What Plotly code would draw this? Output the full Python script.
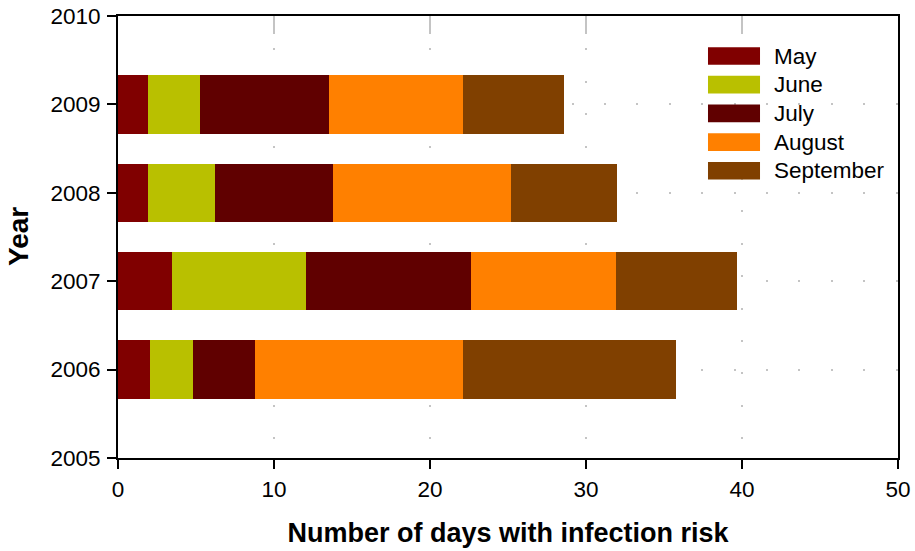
import plotly.graph_objects as go

years = [2006, 2007, 2008, 2009]
months = ["May", "June", "July", "August", "September"]
colors = ["#800000", "#b9c000", "#600000", "#ff8000", "#804000"]

may = [2.05, 3.45, 1.9, 1.9]
june = [2.75, 8.6, 4.3, 3.35]
july = [4.0, 10.6, 7.6, 8.3]
august = [13.3, 9.25, 11.4, 8.55]
september = [13.7, 7.8, 6.8, 6.5]
series = [may, june, july, august, september]

x_ticks = [0, 10, 20, 30, 40, 50]
y_ticks = [2005, 2006, 2007, 2008, 2009, 2010]

FONT = "Liberation Sans, Arial, sans-serif"

fig = go.Figure()
for name, vals, col in zip(months, series, colors):
    fig.add_trace(go.Bar(
        y=years, x=vals, name=name, orientation="h",
        marker=dict(color=col, line=dict(width=0)),
        showlegend=False,
    ))

# dummy trace to activate the top (mirror) axis carrying the grey inward ticks
fig.add_trace(go.Scatter(x=[None], y=[None], xaxis="x2", showlegend=False, hoverinfo="skip"))

fig.update_layout(
    width=915, height=551,
    margin=dict(l=118, r=17, t=16, b=93, autoexpand=False),
    paper_bgcolor="white", plot_bgcolor="white",
    barmode="stack", bargap=0.34,
    font=dict(family=FONT, size=22.5, color="black"),
    xaxis=dict(
        range=[0, 50], tickvals=x_ticks, ticktext=[str(v) for v in x_ticks],
        showline=True, linecolor="black", linewidth=2, mirror=True,
        ticks="outside", ticklen=9, tickwidth=2, tickcolor="black",
        showgrid=True, gridcolor="#c4c4c4", gridwidth=1.5, griddash="2px,30.4px",
        zeroline=False, ticklabelstandoff=1, automargin=False,
        ticklabeloverflow="allow",
        title=dict(text="<b>Number of days with infection risk</b>",
                   font=dict(size=27, family=FONT), standoff=22),
        tickfont=dict(size=22.5),
    ),
    xaxis2=dict(
        overlaying="x", matches="x", side="top", anchor="y",
        range=[0, 50], tickvals=[10, 20, 30, 40], automargin=False,
        ticks="inside", ticklen=18, tickwidth=1.5, tickcolor="#c4c4c4",
        showticklabels=False, showgrid=False, showline=False, zeroline=False,
    ),
    yaxis=dict(
        range=[2005, 2010], tickvals=y_ticks, ticktext=[str(v) for v in y_ticks],
        showline=True, linecolor="black", linewidth=2, mirror=True,
        ticks="outside", ticklen=9, tickwidth=2, tickcolor="black",
        showgrid=True, gridcolor="#c4c4c4", gridwidth=1.5, griddash="2px,30.4px",
        zeroline=False, ticklabelstandoff=2, automargin=False,
        ticklabeloverflow="allow",
        tickfont=dict(size=22.5),
    ),
)

# y-axis title as an annotation so it can sit close to the left edge
fig.add_annotation(xref="paper", yref="paper", x=0, y=0.5, xshift=-100,
                   text="<b>Year</b>", textangle=-90, showarrow=False,
                   xanchor="center", yanchor="middle",
                   font=dict(size=28, family=FONT, color="black"))

# custom legend (wide swatches like the reference)
sw_x0, sw_x1, txt_x = 0.7564, 0.8231, 0.8385
top_y, step, half_h = 0.9095, 0.0649, 0.020
for i, (name, col) in enumerate(zip(months, colors)):
    yc = top_y - i * step
    fig.add_shape(type="rect", xref="paper", yref="paper",
                  x0=sw_x0, x1=sw_x1, y0=yc - half_h, y1=yc + half_h,
                  fillcolor=col, line=dict(width=0), layer="above")
    fig.add_annotation(xref="paper", yref="paper", x=txt_x, y=yc,
                       text=name, showarrow=False, xanchor="left", yanchor="middle",
                       font=dict(size=22.5, family=FONT, color="black"))

# remove the default page margin so the 915x551 figure fills the window exactly
fig.write_html("out.html",
               config={"displayModeBar": False},
               post_script="document.body.style.margin='0';document.body.style.overflow='hidden';")
